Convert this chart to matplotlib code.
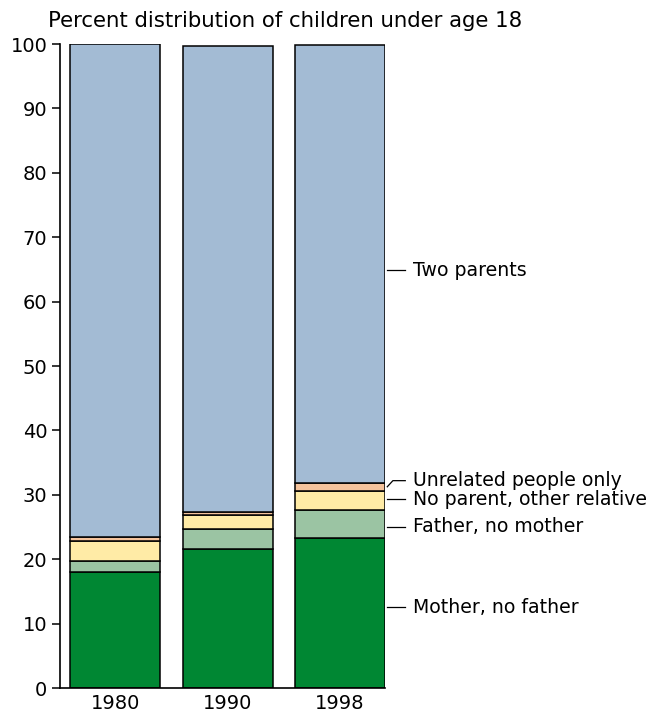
import numpy as np
import matplotlib
matplotlib.use('Agg')
import matplotlib.pyplot as plt

years = ['1980', '1990', '1998']
categorias = ['Mother, no father', 'Father, no mother', 'No parent, other relative',
              'Unrelated people only', 'Two parents']
mae = [18.0, 21.6, 23.3]
pai = [1.7, 3.1, 4.3]
parente = [3.1, 2.2, 3.0]
nao_parente = [0.7, 0.5, 1.3]
dois_pais = [76.5, 72.3, 68.0]
cores = ['#008733', '#9bc4a3', '#ffeba6', '#f5c39c', '#a3bbd4']

series = [mae, pai, parente, nao_parente, dois_pais]

fig = plt.figure(figsize=(6.62, 7.17), dpi=100)
ax = fig.add_axes([0.0906, 0.0404, 0.4910, 0.8982])

x = np.arange(len(years))
base = np.zeros(len(years))
for vals, cor in zip(series, cores):
    ax.bar(x, vals, width=0.8, bottom=base, color=cor, edgecolor='black', linewidth=1.1)
    base = base + np.array(vals)

ax.set_xlim(-0.49, 2.4)
ax.set_ylim(0, 100)
ax.set_yticks(range(0, 101, 10))
ax.set_xticks(x)
ax.set_xticklabels(years)
ax.tick_params(axis='y', direction='out', length=6, width=1.1, labelsize=14, pad=3)
ax.tick_params(axis='x', length=0, labelsize=14, pad=4)
for s in ['top', 'right']:
    ax.spines[s].set_visible(False)
for s in ['left', 'bottom']:
    ax.spines[s].set_linewidth(1.2)

# rótulos à direita da última barra
ult = np.array([v[-1] for v in series])
meios = np.cumsum(ult) - ult / 2
desloc = [0.9, -0.4, 0.2, 0.95, -1.0]
for cat, m, d in zip(categorias, meios, desloc):
    yt = m + d
    y0 = m if cat == 'Unrelated people only' else yt
    ax.plot([2.42, 2.47, 2.58], [y0, yt, yt], color='black', lw=0.9, clip_on=False)
    ax.text(2.65, yt, cat, fontsize=13.6, va='center', ha='left', clip_on=False)

fig.text(0.073, 0.971, 'Percent distribution of children under age 18', fontsize=15.3,
         va='center', ha='left')

plt.savefig('out.png', dpi=100)
